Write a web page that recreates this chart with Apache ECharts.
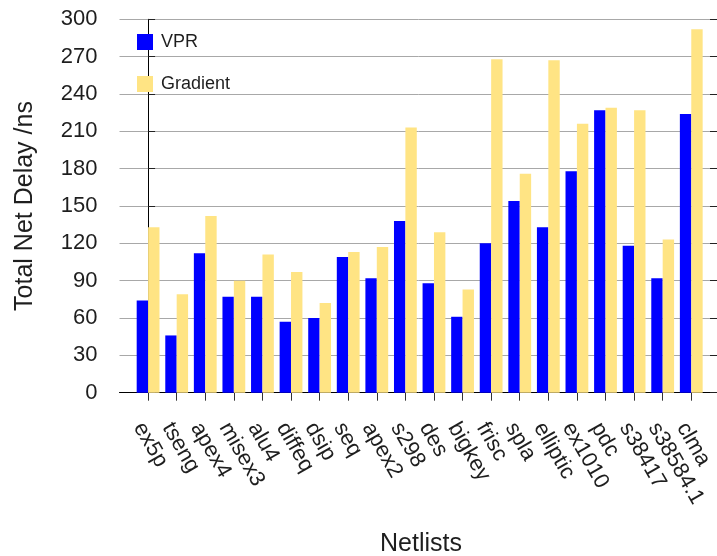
<!DOCTYPE html>
<html>
<head>
<meta charset="utf-8">
<title>Total Net Delay per Netlist</title>
<script src="https://cdn.jsdelivr.net/npm/echarts@6/dist/echarts.min.js"></script>
<style>
  html, body { margin: 0; padding: 0; background: #ffffff; }
  #chart { width: 717px; height: 556px; }
</style>
</head>
<body>
<div id="chart"></div>
<script>
// Netlists on the horizontal axis
const categories = ['ex5p', 'tseng', 'apex4', 'misex3', 'alu4', 'diffeq', 'dsip', 'seq', 'apex2', 's298',
  'des', 'bigkey', 'frisc', 'spla', 'elliptic', 'ex1010', 'pdc', 's38417', 's38584.1', 'clma'];

// Total net delay (ns) for each placer
const vprDelay = [74, 46, 112, 77, 77, 57, 60, 109, 92, 138, 88, 61, 120, 154, 133, 178, 227, 118, 92, 224];
const gradientDelay = [133, 79, 142, 90, 111, 97, 72, 113, 117, 213, 129, 83, 268, 176, 267, 216, 229, 227, 123, 292];

// Vertical tick labels
const yTicks = [0, 30, 60, 90, 120, 150, 180, 210, 240, 270, 300];

const FONT = '"Liberation Sans", Arial, sans-serif';
const TEXT = '#1e1e1e';

const positions = categories.map((_, i) => i);

const chart = echarts.init(document.getElementById('chart'), null, { renderer: 'canvas' });

chart.setOption({
  animation: false,
  backgroundColor: '#ffffff',
  textStyle: { fontFamily: FONT, color: TEXT },
  grid: { left: 119.5, top: 19.3, width: 601.5, height: 373.4, containLabel: false },
  legend: {
    orient: 'vertical',
    left: 137,
    top: 33,
    padding: 0,
    itemWidth: 16,
    itemHeight: 16,
    itemGap: 24,
    icon: 'rect',
    textStyle: { fontFamily: FONT, fontSize: 18, color: TEXT, padding: [0, 0, 0, 3] },
    data: ['VPR', 'Gradient']
  },
  xAxis: {
    type: 'value',
    min: -1,
    max: 19.9,
    interval: 1,
    splitLine: { show: false },
    axisLine: { show: true, onZero: false, lineStyle: { color: '#000000', width: 1 } },
    axisTick: {
      show: true, inside: false, length: 8,
      customValues: positions,
      lineStyle: { color: '#333333', width: 1 }
    },
    axisLabel: {
      customValues: positions,
      formatter: v => categories[Math.round(v)] ?? '',
      rotate: -60,
      verticalAlign: 'top',
      margin: 26,
      fontFamily: FONT,
      fontSize: 22,
      color: TEXT
    }
  },
  yAxis: [
    {
      type: 'value',
      min: yTicks[0],
      max: yTicks[yTicks.length - 1],
      interval: yTicks[1] - yTicks[0],
      position: 'left',
      name: 'Total Net Delay /ns',
      nameLocation: 'middle',
      nameGap: 82,
      nameTextStyle: { fontFamily: FONT, fontSize: 25, color: TEXT },
      axisLine: { show: true, lineStyle: { color: '#000000', width: 1 } },
      axisTick: { show: true, inside: true, length: 7, lineStyle: { color: '#222222', width: 1 } },
      axisLabel: { margin: 22, fontFamily: FONT, fontSize: 22, color: TEXT },
      splitLine: { show: true, lineStyle: { color: '#a8a8a8', width: 1 } }
    },
    {
      type: 'value',
      min: yTicks[0],
      max: yTicks[yTicks.length - 1],
      interval: yTicks[1] - yTicks[0],
      position: 'right',
      axisLine: { show: false },
      axisTick: { show: true, inside: true, length: 7, lineStyle: { color: '#222222', width: 1 } },
      axisLabel: { show: false },
      splitLine: { show: false }
    }
  ],
  graphic: [
    {
      type: 'text',
      x: 421,
      y: 544,
      style: {
        text: 'Netlists', font: '25px ' + FONT, fill: TEXT,
        textAlign: 'center', textVerticalAlign: 'middle'
      }
    }
  ],
  series: [
    {
      name: 'VPR',
      type: 'bar',
      barWidth: 11.4,
      barGap: '0%',
      itemStyle: { color: '#0000ff' },
      data: positions.map(i => [i, vprDelay[i]])
    },
    {
      name: 'Gradient',
      type: 'bar',
      barWidth: 11.4,
      barGap: '0%',
      itemStyle: { color: '#ffe484' },
      data: positions.map(i => [i, gradientDelay[i]])
    }
  ]
});
</script>
</body>
</html>
